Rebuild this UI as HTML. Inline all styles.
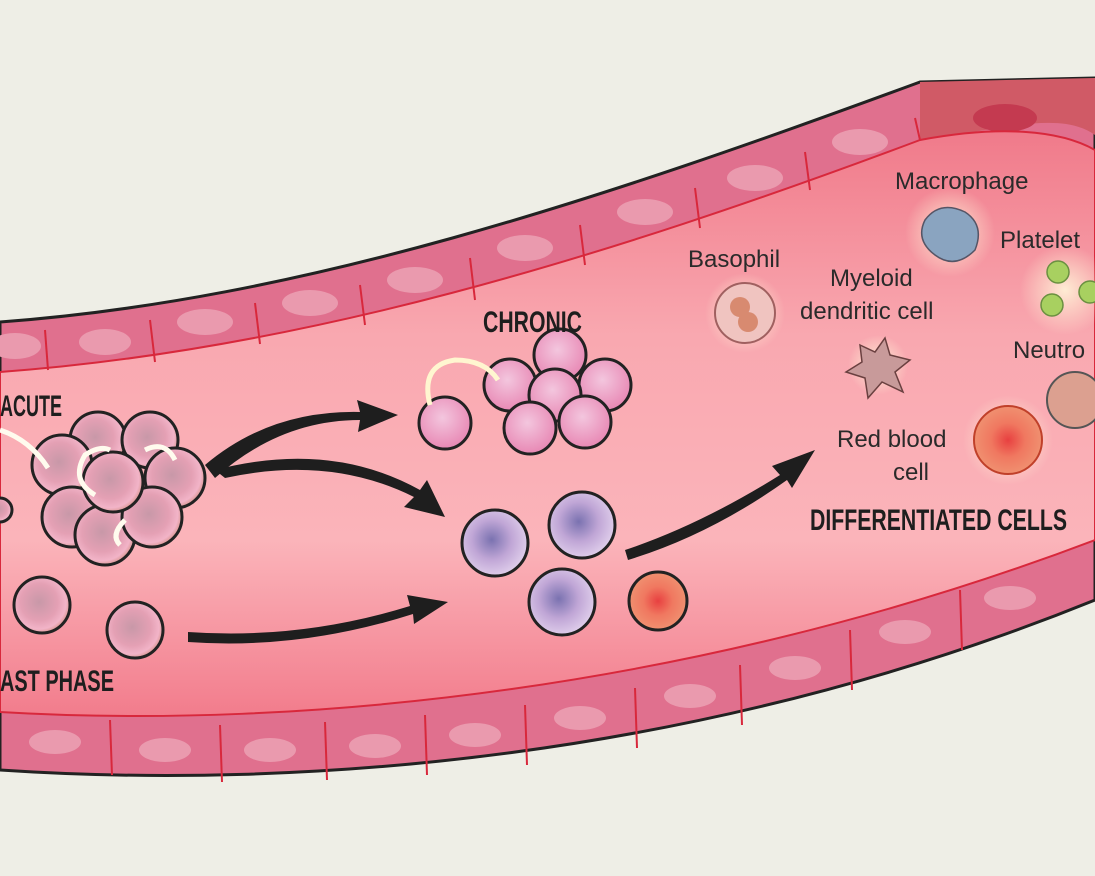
<!DOCTYPE html>
<html><head><meta charset="utf-8"><style>
html,body{margin:0;padding:0;background:#eeeee6}
svg{display:block}
.h{font-family:"Liberation Sans Narrow","Liberation Sans",sans-serif;font-weight:bold;fill:#1e1e1e}
.l{font-family:"Liberation Sans",sans-serif;fill:#2a2a2a;font-size:24px}
</style></head><body>
<svg width="1095" height="876" viewBox="0 0 1095 876" xmlns="http://www.w3.org/2000/svg">
<defs>
<linearGradient id="lum" x1="0" y1="0" x2="0" y2="1">
<stop offset="0" stop-color="#f07a8a"/><stop offset="0.35" stop-color="#f9a8b0"/><stop offset="0.7" stop-color="#fbb4ba"/><stop offset="1" stop-color="#f27c8c"/></linearGradient>
<radialGradient id="rc" cx="0.45" cy="0.45" r="0.6"><stop offset="0" stop-color="#c898a8"/><stop offset="0.55" stop-color="#e4a0b4"/><stop offset="0.8" stop-color="#f2b4c8"/><stop offset="1" stop-color="#d08878"/></radialGradient>
<radialGradient id="pc" cx="0.45" cy="0.4" r="0.6"><stop offset="0" stop-color="#f3c6de"/><stop offset="1" stop-color="#e888b4"/></radialGradient>
<radialGradient id="vc" cx="0.45" cy="0.45" r="0.6"><stop offset="0" stop-color="#7a72b0"/><stop offset="0.5" stop-color="#c0a6d6"/><stop offset="1" stop-color="#e4d4ee"/></radialGradient>
<radialGradient id="rbc" cx="0.5" cy="0.5" r="0.5"><stop offset="0" stop-color="#e84040"/><stop offset="0.5" stop-color="#f07860"/><stop offset="1" stop-color="#f09070"/></radialGradient>
<radialGradient id="glow" cx="0.5" cy="0.5" r="0.5"><stop offset="0" stop-color="#fff4d8" stop-opacity="0.9"/><stop offset="1" stop-color="#fff4d8" stop-opacity="0"/></radialGradient>
</defs>
<rect width="1095" height="876" fill="#eeeee6"/>
<path d="M0,322 C300,300 600,200 920,82 L1095,78 L1095,600 C700,760 300,790 0,770 Z" fill="#e0708e" stroke="#222" stroke-width="3"/>
<path d="M920,82 L1095,78 L1095,135 C1060,110 1000,130 920,140 Z" fill="#d05a66"/>
<ellipse cx="1005" cy="118" rx="32" ry="14" fill="#c43a50"/>
<path d="M0,372 C300,350 600,260 920,140 C1000,125 1060,130 1095,150 L1095,540 C700,690 300,730 0,712 Z" fill="url(#lum)" stroke="#d8283c" stroke-width="2"/>
<g fill="#ea9aae">
<ellipse cx="15" cy="346" rx="26" ry="13"/><ellipse cx="105" cy="342" rx="26" ry="13"/><ellipse cx="205" cy="322" rx="28" ry="13"/><ellipse cx="310" cy="303" rx="28" ry="13"/><ellipse cx="415" cy="280" rx="28" ry="13"/><ellipse cx="525" cy="248" rx="28" ry="13"/><ellipse cx="645" cy="212" rx="28" ry="13"/><ellipse cx="755" cy="178" rx="28" ry="13"/><ellipse cx="860" cy="142" rx="28" ry="13"/>
<ellipse cx="55" cy="742" rx="26" ry="12"/><ellipse cx="165" cy="750" rx="26" ry="12"/><ellipse cx="270" cy="750" rx="26" ry="12"/><ellipse cx="375" cy="746" rx="26" ry="12"/><ellipse cx="475" cy="735" rx="26" ry="12"/><ellipse cx="580" cy="718" rx="26" ry="12"/><ellipse cx="690" cy="696" rx="26" ry="12"/><ellipse cx="795" cy="668" rx="26" ry="12"/><ellipse cx="905" cy="632" rx="26" ry="12"/><ellipse cx="1010" cy="598" rx="26" ry="12"/>
</g>
<g stroke="#d8283c" stroke-width="2">
<line x1="45" y1="330" x2="48" y2="370"/><line x1="150" y1="320" x2="155" y2="362"/><line x1="255" y1="303" x2="260" y2="344"/><line x1="360" y1="285" x2="365" y2="325"/><line x1="470" y1="258" x2="475" y2="300"/><line x1="580" y1="225" x2="585" y2="265"/><line x1="695" y1="188" x2="700" y2="228"/><line x1="805" y1="152" x2="810" y2="190"/><line x1="915" y1="118" x2="920" y2="140"/>
<line x1="110" y1="720" x2="112" y2="775"/><line x1="220" y1="725" x2="222" y2="782"/><line x1="325" y1="722" x2="327" y2="780"/><line x1="425" y1="715" x2="427" y2="775"/><line x1="525" y1="705" x2="527" y2="765"/><line x1="635" y1="688" x2="637" y2="748"/><line x1="740" y1="665" x2="742" y2="725"/><line x1="850" y1="630" x2="852" y2="690"/><line x1="960" y1="590" x2="962" y2="650"/>
</g>
<g stroke="#222" stroke-width="3">
<circle cx="0" cy="510" r="12" fill="url(#rc)"/>
<circle cx="98" cy="440" r="28" fill="url(#rc)"/><circle cx="150" cy="440" r="28" fill="url(#rc)"/>
<circle cx="62" cy="465" r="30" fill="url(#rc)"/><circle cx="175" cy="478" r="30" fill="url(#rc)"/>
<circle cx="72" cy="517" r="30" fill="url(#rc)"/><circle cx="105" cy="535" r="30" fill="url(#rc)"/><circle cx="152" cy="517" r="30" fill="url(#rc)"/>
<circle cx="113" cy="482" r="30" fill="url(#rc)"/>
<circle cx="42" cy="605" r="28" fill="url(#rc)"/><circle cx="135" cy="630" r="28" fill="url(#rc)"/>
</g>
<g fill="none" stroke="#fffbee" stroke-width="5">
<path d="M0,430 Q30,440 48,468"/><path d="M95,495 Q70,480 85,455 Q100,445 110,450"/><path d="M145,450 Q165,440 175,460"/><path d="M120,545 Q110,535 125,520"/>
</g>
<g stroke="#222" stroke-width="3" fill="url(#pc)">
<circle cx="560" cy="355" r="26"/><circle cx="605" cy="385" r="26"/><circle cx="510" cy="385" r="26"/><circle cx="555" cy="395" r="26"/><circle cx="530" cy="428" r="26"/><circle cx="585" cy="422" r="26"/><circle cx="445" cy="423" r="26"/>
</g>
<path d="M430,405 Q420,365 455,360 Q485,360 498,380" fill="none" stroke="#fff6d0" stroke-width="5"/>
<g stroke="#222" stroke-width="3">
<circle cx="495" cy="543" r="33" fill="url(#vc)"/><circle cx="582" cy="525" r="33" fill="url(#vc)"/><circle cx="562" cy="602" r="33" fill="url(#vc)"/>
<circle cx="658" cy="601" r="29" fill="url(#rbc)"/>
</g>
<g fill="#1e1e1e">
<path d="M205,465 Q270,410 360,412 L357,400 L398,415 L358,432 L360,420 Q280,420 215,478 Z"/>
<path d="M215,470 Q330,440 420,490 L427,480 L445,517 L404,507 L414,497 Q330,455 225,478 Z"/>
<path d="M188,632 Q300,640 410,606 L407,595 L448,602 L414,624 L413,614 Q300,650 188,642 Z"/>
<path d="M625,550 Q700,525 780,475 L772,466 L815,450 L792,488 L787,480 Q710,535 628,560 Z"/>
</g>
<circle cx="745" cy="313" r="40" fill="url(#glow)"/><circle cx="745" cy="313" r="30" fill="#f0c4c0" stroke="#a06060" stroke-width="2"/>
<circle cx="740" cy="307" r="10" fill="#d88a70"/><circle cx="748" cy="322" r="10" fill="#d88a70"/>
<circle cx="950" cy="232" r="45" fill="url(#glow)"/><path d="M925,220 Q940,200 965,212 Q985,225 975,250 Q955,270 935,255 Q915,240 925,220Z" fill="#8aa4c0" stroke="#556" stroke-width="1.5"/>
<circle cx="878" cy="365" r="30" fill="url(#glow)"/><path d="M860,345 L875,352 L885,338 L890,355 L910,360 L895,372 L903,392 L882,382 L868,398 L865,378 L846,372 L862,362Z" fill="#c89a9a" stroke="#6a4040" stroke-width="1.5"/>
<circle cx="1008" cy="440" r="45" fill="url(#glow)"/><circle cx="1008" cy="440" r="34" fill="url(#rbc)" stroke="#c0402a" stroke-width="2"/>
<circle cx="1075" cy="400" r="28" fill="#dca090" stroke="#555" stroke-width="2"/>
<circle cx="1065" cy="290" r="45" fill="url(#glow)"/>
<g fill="#a8d060" stroke="#6a9040" stroke-width="1.5"><circle cx="1058" cy="272" r="11"/><circle cx="1052" cy="305" r="11"/><circle cx="1090" cy="292" r="11"/></g>
<text class="h" x="0" y="416" font-size="30" textLength="62" lengthAdjust="spacingAndGlyphs">ACUTE</text>
<text class="h" x="483" y="332" font-size="30" textLength="99" lengthAdjust="spacingAndGlyphs">CHRONIC</text>
<text class="h" x="0" y="691" font-size="30" textLength="114" lengthAdjust="spacingAndGlyphs">AST PHASE</text>
<text class="h" x="810" y="530" font-size="30" textLength="257" lengthAdjust="spacingAndGlyphs">DIFFERENTIATED CELLS</text>
<text class="l" x="895" y="189">Macrophage</text>
<text class="l" x="1000" y="248">Platelet</text>
<text class="l" x="688" y="267">Basophil</text>
<text class="l" x="830" y="286">Myeloid</text>
<text class="l" x="800" y="319">dendritic cell</text>
<text class="l" x="1013" y="358">Neutro</text>
<text class="l" x="837" y="447">Red blood</text>
<text class="l" x="893" y="480">cell</text>
</svg>
</body></html>
